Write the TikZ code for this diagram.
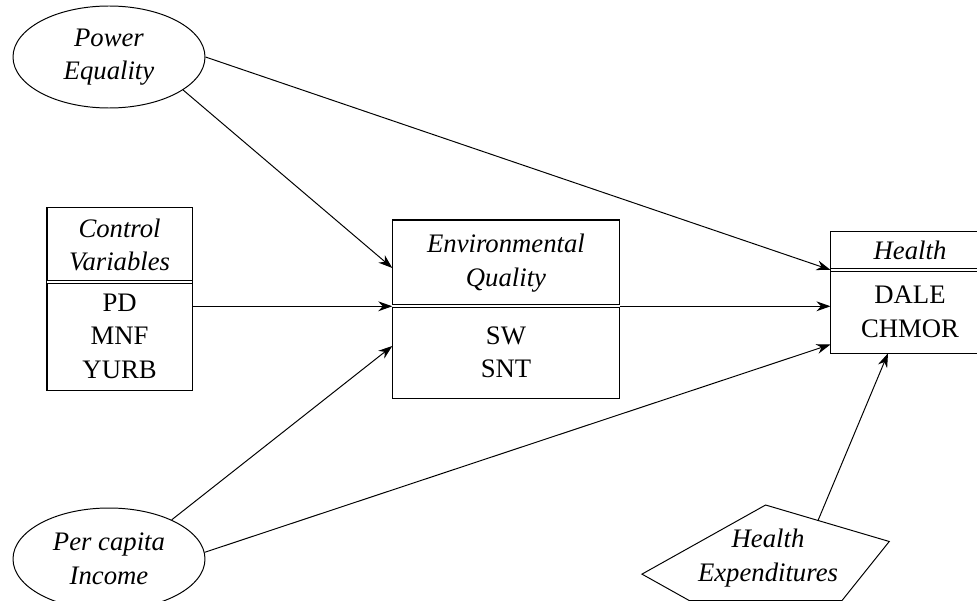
\documentclass[tikz,border=0pt]{standalone}
\usepackage{fontspec}
\setmainfont{Liberation Serif}
\usetikzlibrary{positioning,arrows.meta,shapes.geometric}

\newcommand{\dgsize}{\fontsize{19}{23.8}\selectfont}

\begin{document}
\begin{tikzpicture}[->,>={Stealth[length=10pt,width=7pt]},line width=0.7pt,
    font=\dgsize,
    latent/.style={ellipse,draw,minimum width=4.8cm,minimum height=2.55cm,inner sep=0pt,align=center,font=\dgsize\itshape},
    head/.style={inner sep=0pt,align=center,font=\dgsize\itshape},
    body/.style={inner sep=0pt,align=center,font=\dgsize},
    frame/.style={-,line width=0.9pt},
    split/.style={-,double,double distance=1.6pt}]

            \useasboundingbox (0,0) rectangle (24.425,15);

            \node[latent] (power) at (2.725,13.575) {Power\\Equality};
            \node[latent] (income) at (2.725,1.025) {Per capita\\Income};

            \node[head, minimum width=3.61cm, minimum height=1.83cm] (ctrlhead) at (2.99,8.88) {Control\\Variables};
            \node[body, minimum width=3.61cm, minimum height=2.69cm, below=0pt of ctrlhead] (ctrlbody) {PD\\MNF\\YURB};

            \node[head, minimum width=5.66cm, minimum height=2.13cm] (envhead) at (12.65,8.42) {Environmental\\Quality};
            \node[body, minimum width=5.66cm, minimum height=2.28cm, below=0pt of envhead] (envbody) {SW\\SNT};

            \node[head, minimum width=3.95cm, minimum height=0.93cm] (hhead) at (22.75,8.73) {Health};
            \node[body, minimum width=3.95cm, minimum height=2.06cm, below=0pt of hhead] (hbody) {DALE\\CHMOR};

            \node[head] (exp) at (19.2,1.05) {Health\\Expenditures};

            % boxes with double rule under the header
            \draw[frame] (ctrlhead.north west) rectangle (ctrlbody.south east);
            \draw[split] (ctrlhead.south west) -- (ctrlhead.south east);
            \draw[frame] (envhead.north west) rectangle (envbody.south east);
            \draw[split] (envhead.south west) -- (envhead.south east);
            \draw[frame] (hhead.north west) rectangle (hbody.south east);
            \draw[split] (hhead.south west) -- (hhead.south east);

            % pentagon round the expenditures
            \draw[-, shift={(19.14,1.055)}, x=3.25cm, y=1.32cm]
                (90:1) -- coordinate[pos=0.424] (expout) (18:1) -- (-54:1) -- (-126:1) -- (198:1) -- cycle;

            \path
                (power.-24) edge ([yshift=-1.2mm]envhead.west)
                (power.east) edge (hhead.south west)

                (envhead.south west -| ctrlbody.east) edge (envhead.south west)
                (envhead.south east) edge (envhead.south east -| hbody.west)

                (income.32) edge ([yshift=1.6mm]envbody.west)
                (income.4) edge ([yshift=2.2mm]hbody.south west)

                (expout) edge ([xshift=-5.5mm]hbody.south)
                ;
                    \end{tikzpicture}
\end{document}
